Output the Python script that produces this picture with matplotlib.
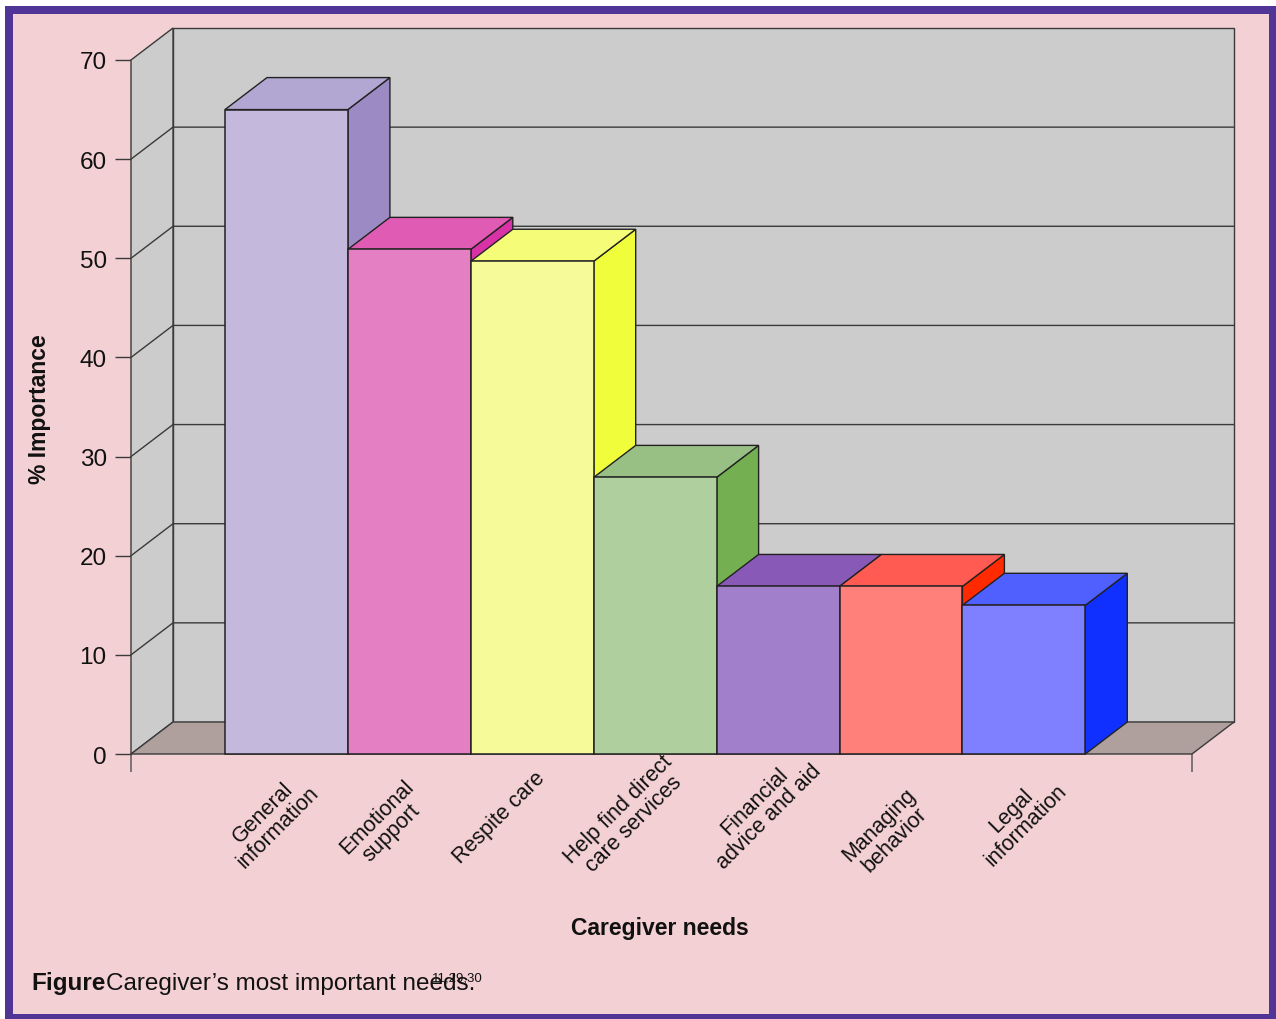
import matplotlib
matplotlib.use("Agg")
import matplotlib.pyplot as plt
from matplotlib.patches import Polygon, Rectangle
from matplotlib.transforms import ScaledTranslation
from matplotlib import font_manager as fm

names = {f.name for f in fm.fontManager.ttflist}
FONT = "Liberation Sans Narrow" if "Liberation Sans Narrow" in names else "Liberation Sans"
plt.rcParams["font.family"] = [FONT, "DejaVu Sans"]

categories = ["General\ninformation", "Emotional\nsupport", "Respite care",
              "Help find direct\ncare services", "Financial\nadvice and aid",
              "Managing\nbehavior", "Legal\ninformation"]
values = [65.0, 50.9, 49.7, 27.9, 16.9, 16.9, 15.0]
front_colors = ["#C4B9DD", "#E57FC4", "#F6FA99", "#B0CF9F", "#A17FCA", "#FF7F7A", "#7F80FF"]
top_colors = ["#B2A7D2", "#E05BB4", "#F4FC78", "#98C084", "#8859B6", "#FF5B52", "#5060FF"]
side_colors = ["#9B8AC4", "#D832A6", "#EFFD3A", "#74AF52", "#6F3BA8", "#FF2A00", "#0F30FF"]
y_ticks = [0, 10, 20, 30, 40, 50, 60, 70]
label_shift_px = [(-16, 0), (-25, 5), (-33, -2), (-29, -3), (-16, -11), (-14, 12), (-5, -2)]

W, H = 1276, 1020
fig = plt.figure(figsize=(W / 100, H / 100), dpi=100, facecolor="white")
fig.patches.append(Rectangle((5 / W, 0), 1 - 5 / W, 1 - 7 / H, transform=fig.transFigure,
                             facecolor="#503596", edgecolor="none", zorder=-3))
fig.patches.append(Rectangle((13 / W, 5 / H), (1269 - 13) / W, (1015 - 15) / H, transform=fig.transFigure,
                             facecolor="#F3D0D4", edgecolor="none", zorder=-2))

left, right, bottom, top = 131, 1192, 755, 61
ax = fig.add_axes([left / W, 1 - bottom / H, (right - left) / W, (bottom - top) / H])
ax.patch.set_visible(False)
px_x = 122.9
ax.set_xlim(-0.5 - (225 - left) / px_x, -0.5 + (right - 225) / px_x)
ax.set_ylim(0, 70)
DX = 42 / px_x
DY = 32 / ((bottom - top) / 70)
x0, x1 = ax.get_xlim()
ymax = y_ticks[-1]
LINE = "#3A3A3A"

def poly(pts, fc, ec=LINE, lw=1.0, z=2):
    ax.add_patch(Polygon(pts, closed=True, facecolor=fc, edgecolor=ec, linewidth=lw,
                         joinstyle="miter", clip_on=False, zorder=z))

# Walls and floor
poly([(x0 + DX, DY), (x1 + DX, DY), (x1 + DX, ymax + DY), (x0 + DX, ymax + DY)], "#CCCCCC")
poly([(x0, 0), (x0 + DX, DY), (x0 + DX, ymax + DY), (x0, ymax)], "#CCCCCC")
poly([(x0, 0), (x1, 0), (x1 + DX, DY), (x0 + DX, DY)], "#AFA09E")
for v in y_ticks[1:-1]:
    ax.plot([x0, x0 + DX, x1 + DX], [v, v + DY, v + DY], color=LINE, lw=1.0,
            clip_on=False, zorder=3)

# Bars
for i, (v, fc, tc, sc) in enumerate(zip(values, front_colors, top_colors, side_colors)):
    a, b = i - 0.5, i + 0.5
    poly([(b, 0), (b + DX, DY), (b + DX, v + DY), (b, v)], sc, ec="#222222", z=4 + i)
    poly([(a, v), (b, v), (b + DX, v + DY), (a + DX, v + DY)], tc, ec="#222222", z=4 + i)
    poly([(a, 0), (b, 0), (b, v), (a, v)], fc, ec="#222222", lw=1.1, z=4 + i)

# Axes furniture
for s in ax.spines.values():
    s.set_visible(False)
ax.set_yticks(y_ticks)
ax.tick_params(axis="y", length=11.5, width=1.0, color=LINE, pad=6, labelsize=17.5, labelcolor="#111111")
ax.set_xticks(range(len(categories)))
ax.set_xticklabels(categories, rotation=45, ha="center", va="center", linespacing=1.0,
                   fontsize=15.5, color="#111111")
ax.tick_params(axis="x", which="major", length=0, pad=47)
ax.set_xticks([x0, x1], minor=True)
ax.tick_params(axis="x", which="minor", length=13, width=1.2, color="#666666")
for lab, (sx, sy) in zip(ax.get_xticklabels(), label_shift_px):
    lab.set_transform(lab.get_transform() + ScaledTranslation(sx / 100, sy / 100 * -1, fig.dpi_scale_trans))

fig.text(660 / W, 1 - 929 / H, "Caregiver needs", ha="center", va="center",
         fontsize=16.5, fontweight="bold", color="#111111")
fig.text(40 / W, 1 - 409 / H, "% Importance", ha="center", va="center", rotation=90,
         fontsize=16.5, fontweight="bold", color="#111111")
fig.text(31 / W, 1 - 990 / H, "Figure", ha="left", va="baseline",
         fontsize=17.5, fontweight="bold", color="#111111")
fig.text(106 / W, 1 - 990 / H, "Caregiver\u2019s most important needs.", ha="left", va="baseline",
         fontsize=17.5, color="#111111")
fig.text(432 / W, 1 - 982 / H, "11,29,30", ha="left", va="baseline", fontsize=9.5, color="#111111")

fig.savefig("out.png", dpi=100, facecolor="white")
print(FONT)
